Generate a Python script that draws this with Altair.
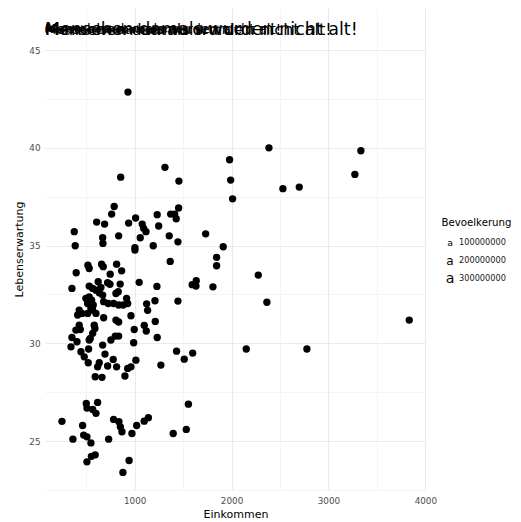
import altair as alt
import pandas as pd

# Scatter points
einkommen = [931,1313,2386,3335,3273,1980,1991,2011,2530,2699,1457,856,789,763,608,690,938,1010,1078,1093,
             1117,1233,1372,1413,1454,1429,1248,377,387,670,673,835,1058,1003,1192,1357,1447,1733,1914,1846,
             1846,1808,2276,2365,3834,2152,2778,1367,1230,1594,1636,1633,1124,1210,1447,1134,1099,1120,1213,1233,
             1433,1512,1599,1271,
             518,531,659,676,814,866,748,397,353,531,624,721,745,851,831,807,1047,601,635,652,
             670,567,497,531,556,515,573,549,680,728,783,917,928,882,835,428,412,456,601,567,
             680,807,835,962,428,394,439,583,590,567,542,531,353,343,405,670,755,800,835,996,
             990,525,446,480,521,694,779,635,618,721,814,1013,962,928,593,663,900,1003,515,
             501,508,618,567,601,250,463,474,508,363,549,783,838,853,869,732,972,1021,1099,1142,
             1555,1398,1533,593,554,508,943,879]
lebenserwartung = [42.85,39.0,40.0,39.85,38.64,39.39,38.35,37.39,37.91,37.99,38.3,38.5,37.0,36.61,36.2,36.1,36.15,36.41,36.1,35.88,
                   35.71,36.58,36.61,36.61,36.92,36.37,36.0,35.71,34.99,35.4,35.11,35.5,35.4,34.89,34.99,35.5,35.19,35.6,34.94,34.4,
                   33.97,32.89,33.49,32.1,31.19,29.71,29.71,34.19,32.91,33.0,33.2,32.93,32.02,32.18,32.16,31.69,30.92,30.63,31.12,30.3,
                   29.6,29.19,29.5,28.89,
                   34.0,33.83,34.05,33.92,34.05,33.71,33.54,33.61,32.81,32.93,33.15,33.1,33.02,33.03,32.64,32.55,33.12,32.72,32.59,32.86,
                   32.47,32.81,32.3,32.38,32.21,32.04,31.96,31.79,32.13,32.04,32.04,32.3,32.04,31.96,31.96,31.7,31.45,31.53,31.53,31.7,
                   31.31,31.19,31.09,31.41,30.93,30.68,30.71,30.93,30.76,30.51,30.25,30.17,30.3,29.82,30.08,29.91,30.17,30.37,30.37,30.71,
                   30.03,29.71,29.57,29.31,29.01,29.45,29.18,29.01,28.8,28.84,28.8,29.14,28.8,28.72,28.29,28.26,28.33,34.77,31.53,
                   26.93,26.69,26.98,26.62,26.42,26.01,25.8,25.31,25.22,25.1,24.91,26.11,25.99,25.73,25.48,25.1,25.39,25.8,26.02,26.2,
                   26.89,25.39,25.6,24.3,24.22,23.94,24.01,23.4]

# Overplotted annotation text, one copy per population value
label_text = "Menschen damals wurden nicht alt!"
label_x = 75
label_y = 46
bevoelkerung_text = [490000000, 400000000, 250000000, 160000000, 100000000, 60000000, 30000000, 10000000]

# Legend entries
legend_values = [100000000, 200000000, 300000000]
legend_title = "Bevoelkerung"

pts = pd.DataFrame({"Einkommen": einkommen, "Lebenserwartung": lebenserwartung})
txt = pd.DataFrame({"Einkommen": [label_x] * len(bevoelkerung_text),
                    "Lebenserwartung": [label_y] * len(bevoelkerung_text),
                    "Bevoelkerung": bevoelkerung_text,
                    "label": [label_text] * len(bevoelkerung_text)})
leg = pd.DataFrame({"Bevoelkerung": legend_values,
                    "lab": [str(v) for v in legend_values],
                    "glyph": ["a"] * len(legend_values)})
leg_t = pd.DataFrame({"t": [legend_title]})

FONT = "DejaVu Sans"
GRID = "#ebebeb"

x_scale = alt.Scale(domain=[75, 4007], nice=False, zero=False)
y_scale = alt.Scale(domain=[22.5, 47.15], nice=False, zero=False)
size_scale = alt.Scale(type="sqrt", domain=[0, 490000000], range=[2.5, 17.5])

x_axis = alt.Axis(values=[500, 1000, 1500, 2000, 2500, 3000, 3500, 4000],
                  labelExpr="datum.value % 1000 === 0 ? datum.label : ''",
                  format="d", domain=False, ticks=False, labelPadding=6, titlePadding=4,
                  labelFlush=False, gridColor=GRID,
                  gridWidth={"condition": {"test": "datum.value % 1000 === 0", "value": 1.1}, "value": 0.55})
y_axis = alt.Axis(values=[22.5, 25, 27.5, 30, 32.5, 35, 37.5, 40, 42.5, 45],
                  labelExpr="datum.value % 5 === 0 ? datum.label : ''",
                  domain=False, ticks=False, labelPadding=5, titlePadding=4,
                  labelFlush=False, gridColor=GRID,
                  gridWidth={"condition": {"test": "datum.value % 5 === 0", "value": 1.1}, "value": 0.55})

points = alt.Chart(pts).mark_circle(size=54, color="black", opacity=1).encode(
    x=alt.X("Einkommen:Q", scale=x_scale, axis=x_axis),
    y=alt.Y("Lebenserwartung:Q", scale=y_scale, axis=y_axis),
)

texts = alt.Chart(txt).mark_text(align="left", baseline="middle", color="black",
                                 opacity=0.99, font=FONT).encode(
    x=alt.X("Einkommen:Q", scale=x_scale),
    y=alt.Y("Lebenserwartung:Q", scale=y_scale),
    size=alt.Size("Bevoelkerung:Q", scale=size_scale, legend=None),
    text="label:N",
)

main = alt.layer(points, texts)

leg_y = alt.Y("Bevoelkerung:O", scale=alt.Scale(type="point", domain=legend_values,
                                                 range=[234.7, 271], padding=0), axis=None)
leg_glyph = alt.Chart(leg).mark_text(align="center", baseline="middle", color="black",
                                     opacity=0.99, font=FONT).encode(
    x=alt.value(405), y=leg_y,
    size=alt.Size("Bevoelkerung:Q", scale=size_scale, legend=None),
    text="glyph:N",
)
leg_lab = alt.Chart(leg).mark_text(align="left", baseline="middle", color="#1a1a1a",
                                   font=FONT, fontSize=8.2).encode(
    x=alt.value(414), y=leg_y, text="lab:N",
)
leg_title = alt.Chart(leg_t).mark_text(align="left", baseline="middle", color="black",
                                       font=FONT, fontSize=10.2).encode(
    x=alt.value(396.5), y=alt.value(215.3), text="t:N",
)
legend = alt.layer(leg_glyph, leg_lab, leg_title)

chart = alt.layer(main, legend).resolve_scale(y="independent").properties(
    width=381, height=482, padding={"left": 5, "top": 0, "right": 0, "bottom": 0}
).configure_view(stroke=None).configure_axis(
    labelFont=FONT, titleFont=FONT, labelFontSize=8.8, titleFontSize=11,
    labelColor="#4d4d4d", titleColor="black", titleFontWeight="normal",
)

chart.save("out.html", embed_options={"renderer": "svg", "actions": False})
